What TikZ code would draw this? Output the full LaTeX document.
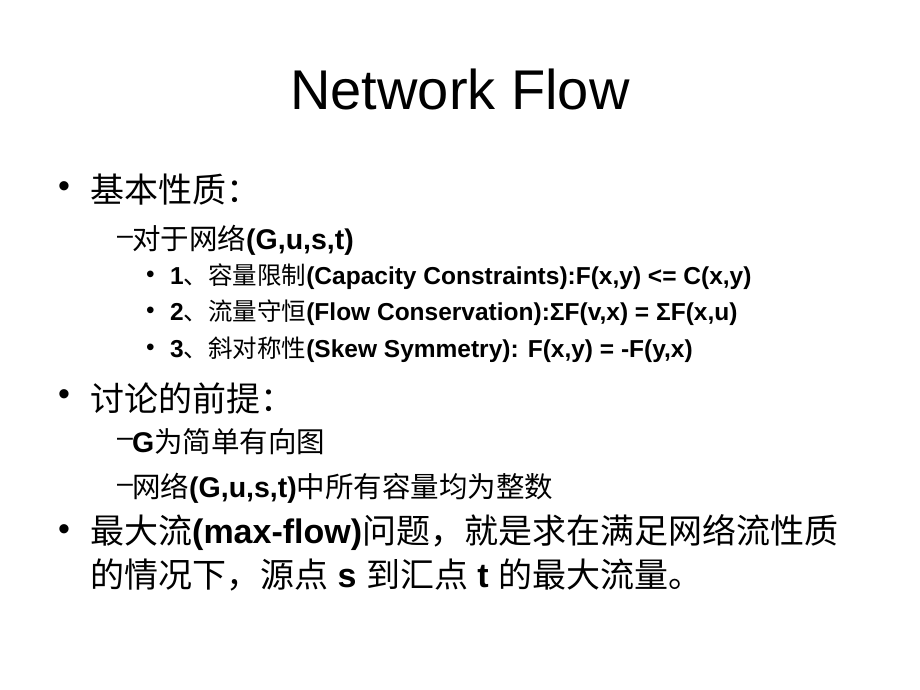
\documentclass[tikz,border=0pt]{standalone}
\usepackage{fontspec}
\setmainfont{Liberation Sans}
\newfontfamily\cjk{Noto Sans CJK SC}
\newcommand\zh[1]{{\cjk #1}}
\usetikzlibrary{positioning}
\begin{document}
\begin{tikzpicture}[x=1pt,y=1pt,
  title/.style = {font=\fontsize{56}{66}\selectfont},
  lvlone/.style = {anchor=west, inner sep=0pt, font=\fontsize{34}{40}\selectfont},
  lvltwo/.style = {anchor=west, inner sep=0pt, font=\fontsize{28.5}{34}\selectfont},
  lvlthree/.style = {anchor=west, inner sep=0pt, font=\fontsize{24.5}{29}\selectfont},
]
\useasboundingbox (0,0) rectangle (920,690);
\node[title] (head) at (460,601) {Network Flow};

% first block
\node[lvlone] (b1) at (58,500) {•};
\node[lvlone] (t1) at (90,500) {\zh{基本性质：}};
\node[lvltwo] (d1) at (117,450) {\textendash};
\node[lvltwo] (t2) at (132,450) {\zh{对于网络}\textbf{(G,u,s,t)}};
\node[lvlthree] (b3a) at (146,413) {•};
\node[lvlthree] (t3a) at (170,413) {\textbf{1}\zh{、容量限制}\textbf{(Capacity Constraints):F(x,y) <= C(x,y)}};
\node[lvlthree] (b3b) at (146,377) {•};
\node[lvlthree] (t3b) at (170,377) {\textbf{2}\zh{、流量守恒}\textbf{(Flow Conservation):ΣF(v,x) = ΣF(x,u)}};
\node[lvlthree] (b3c) at (146,340) {•};
\node[lvlthree] (t3c) at (170,340) {\textbf{3}\zh{、斜对称性}\textbf{(Skew Symmetry): F(x,y) = -F(y,x)}};

% second block
\node[lvlone] (b2) at (58,292) {•};
\node[lvlone] (t4) at (90,292) {\zh{讨论的前提：}};
\node[lvltwo] (d2) at (117,248) {\textendash};
\node[lvltwo] (t5) at (132,248) {\textbf{G}\zh{为简单有向图}};
\node[lvltwo] (d3) at (117,202) {\textendash};
\node[lvltwo] (t6) at (132,202) {\zh{网络}\textbf{(G,u,s,t)}\zh{中所有容量均为整数}};

% third block
\node[lvlone] (b4) at (58,157) {•};
\node[lvlone] (t7) at (90,157) {\zh{最大流}\textbf{(max-flow)}\zh{问题，就是求在满足网络流性质}};
\node[lvlone] (t8) at (90,115) {\zh{的情况下，源点} \textbf{s} \zh{到汇点} \textbf{t} \zh{的最大流量。}};
\end{tikzpicture}
\end{document}
